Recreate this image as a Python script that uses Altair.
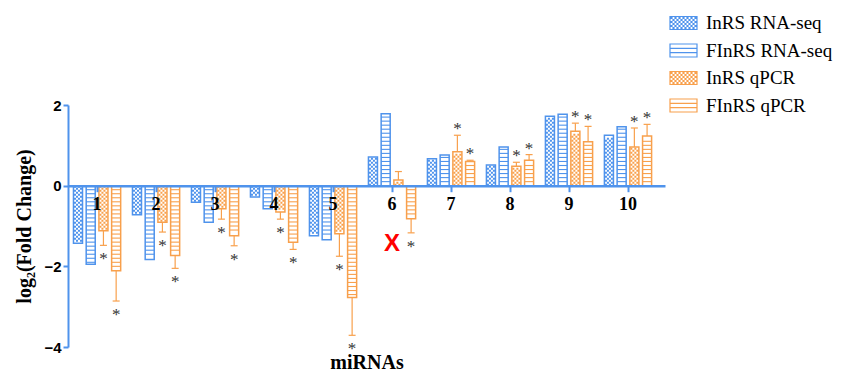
import altair as alt
import pandas as pd
import numpy as np

groups = ["1", "2", "3", "4", "5", "6", "7", "8", "9", "10"]
series = ["InRS RNA-seq", "FInRS RNA-seq", "InRS qPCR", "FInRS qPCR"]

inrs_rna = [-1.43, -0.72, -0.41, -0.28, -1.24, 0.71, 0.67, 0.51, 1.72, 1.25]
finrs_rna = [-1.95, -1.83, -0.91, -0.57, -1.34, 1.78, 0.76, 0.96, 1.77, 1.46]
inrs_qpcr = [-1.12, -0.91, -0.57, -0.65, -1.19, 0.14, 0.84, 0.48, 1.35, 0.96]
inrs_qpcr_err = [-1.48, -1.15, -0.83, -0.83, -1.75, 0.35, 1.25, 0.58, 1.55, 1.43]
finrs_qpcr = [-2.11, -1.73, -1.24, -1.40, -2.77, -0.82, 0.60, 0.63, 1.09, 1.23]
finrs_qpcr_err = [-2.86, -2.05, -1.49, -1.58, -3.71, -1.17, 0.63, 0.77, 1.47, 1.52]
inrs_qpcr_star = [1, 1, 1, 1, 1, 0, 1, 1, 1, 1]
finrs_qpcr_star = [1, 1, 1, 1, 1, 1, 1, 1, 1, 1]

BLUE = "#4F93EC"
ORANGE = "#F8A04C"
strokes = [BLUE, BLUE, ORANGE, ORANGE]
PX = 40.33  # pixels per unit on the y scale (used for pattern spacing only)

vals = [inrs_rna, finrs_rna, inrs_qpcr, finrs_qpcr]
rows = []
for s, v in zip(series, vals):
    for g, x in zip(groups, v):
        rows.append({"group": g, "series": s, "value": x})
bars = pd.DataFrame(rows)

erows = []
for s, v, e, st in [("InRS qPCR", inrs_qpcr, inrs_qpcr_err, inrs_qpcr_star),
                    ("FInRS qPCR", finrs_qpcr, finrs_qpcr_err, finrs_qpcr_star)]:
    for g, x, ee, ss in zip(groups, v, e, st):
        erows.append({"group": g, "series": s, "value": x, "err": ee, "star": ss})
errs = pd.DataFrame(erows)

# horizontal-line pattern inside FInRS bars
srows = []
for s, v in [("FInRS RNA-seq", finrs_rna), ("FInRS qPCR", finrs_qpcr)]:
    for g, x in zip(groups, v):
        k = 1
        while k * 0.1 < abs(x) - 0.04:
            srows.append({"group": g, "series": s, "lvl": float(np.sign(x) * k * 0.1)})
            k += 1
stripes = pd.DataFrame(srows)

# checker pattern inside InRS bars (one row of cells every 2 px)
crows = []
for s, v in [("InRS RNA-seq", inrs_rna), ("InRS qPCR", inrs_qpcr)]:
    for g, x in zip(groups, v):
        hpx = abs(x) * PX
        j = 0
        while (j + 1) * 2 <= hpx - 0.5:
            crows.append({"group": g, "series": s,
                          "lvl": float(np.sign(x) * (j + 0.5) * 2 / PX), "par": j % 2})
            j += 1
checks = pd.DataFrame(crows)

mark_df = pd.DataFrame({"group": ["6"], "y": [-1.44], "label": ["X"]})

# legend swatch paths (unit = 13.5 px)
u = 1 / 13.5
rect = "M-1,-0.48H1V0.48H-1Z"
striped = rect + " M-1,-0.16H1 M-1,0.16H1"
sq = []
for i, cx in enumerate(range(-12, 13, 2)):
    for j, cy in enumerate(range(-5, 6, 2)):
        if (i + j) % 2 == 0:
            sq.append("M%.4f,%.4fh%.4fv%.4fh%.4fZ" % ((cx - 0.5) * u, (cy - 0.5) * u, u, u, -u))
checker = rect + " " + " ".join(sq)
shapes = [checker, striped, checker, striped]
legend_df = pd.DataFrame({"series": series})

# checker row symbols (size=4 -> 1 unit = 1 px)
row_even = "M-4,-1h2v2h-2Z M0,-1h2v2h-2Z"
row_odd = "M-2,-1h2v2h-2Z M2,-1h2v2h-2Z"

X = alt.X("group:N", sort=groups,
          scale=alt.Scale(paddingInner=0.2, paddingOuter=0.16, align=0.29),
          axis=alt.Axis(title="miRNAs", offset=-161.3, zindex=1, labelAngle=0,
                        domainColor=BLUE, domainWidth=2.5, tickColor=BLUE,
                        tickWidth=2, tickSize=6, labelFont="Liberation Serif",
                        labelFontWeight="bold", labelFontSize=18, labelColor="black",
                        labelPadding=4, titleFont="Liberation Serif", titleFontSize=20,
                        titleFontWeight="bold", titleColor="black", titleBaseline="middle",
                        titleY=177, grid=False))
XO = alt.XOffset("series:N", sort=series,
                 scale=alt.Scale(paddingInner=0.29, paddingOuter=0))
Y = alt.Y("value:Q", scale=alt.Scale(domain=[-4, 2], nice=False),
          axis=alt.Axis(values=[-4, -2, 0, 2], title="log₂(Fold Change)",
                        domainColor=BLUE, domainWidth=2, tickColor=BLUE, tickWidth=2,
                        tickSize=5, labelFont="Liberation Sans", labelFontWeight="bold",
                        labelFontSize=15, labelColor="black", labelPadding=2,
                        titleFont="Liberation Serif", titleFontSize=20,
                        titleFontWeight="bold", titleColor="black", titleX=-44,
                        titleY=121, titleBaseline="middle", grid=False))

stroke_scale = alt.Scale(domain=series, range=strokes)
shape_scale = alt.Scale(domain=series, range=shapes)

bar_layer = alt.Chart(bars).mark_bar(strokeWidth=1.5, fill="white").encode(
    x=X, xOffset=XO, y=Y,
    stroke=alt.Stroke("series:N", scale=stroke_scale, sort=series, title=None),
)

legend_layer = alt.Chart(legend_df).mark_point(filled=True, fill="white", clip=True,
                                               strokeWidth=1.2).encode(
    x=alt.value(-2000), y=alt.value(-2000),
    stroke=alt.Stroke("series:N", scale=stroke_scale, sort=series, title=None),
    shape=alt.Shape("series:N", scale=shape_scale, sort=series, title=None),
)

stripe_layers = []
for s, c in [("FInRS RNA-seq", BLUE), ("FInRS qPCR", ORANGE)]:
    stripe_layers.append(
        alt.Chart(stripes).transform_filter(alt.datum.series == s)
        .mark_tick(size=9, thickness=1.1, color=c, opacity=1)
        .encode(x=X, xOffset=XO, y=alt.Y("lvl:Q"))
    )

check_layers = []
for s, c in [("InRS RNA-seq", BLUE), ("InRS qPCR", ORANGE)]:
    for par, path in [(0, row_even), (1, row_odd)]:
        check_layers.append(
            alt.Chart(checks)
            .transform_filter((alt.datum.series == s) & (alt.datum.par == par))
            .mark_point(shape=path, filled=True, size=4, opacity=1, color=c, strokeWidth=0)
            .encode(x=X, xOffset=XO, y=alt.Y("lvl:Q"))
        )

err_rule = alt.Chart(errs).mark_rule(color=ORANGE, strokeWidth=1.2).encode(
    x=X, xOffset=XO, y=alt.Y("value:Q"), y2="err:Q")
err_cap = alt.Chart(errs).mark_tick(color=ORANGE, size=7, thickness=1.2, opacity=1).encode(
    x=X, xOffset=XO, y=alt.Y("err:Q"))

star_neg = alt.Chart(errs).transform_filter("datum.star == 1 && datum.err < 0").mark_text(
    text="*", font="Liberation Serif", fontSize=17, color="#333333", dy=14).encode(
    x=X, xOffset=XO, y=alt.Y("err:Q"))
star_pos = alt.Chart(errs).transform_filter("datum.star == 1 && datum.err > 0").mark_text(
    text="*", font="Liberation Serif", fontSize=17, color="#333333", dy=-6).encode(
    x=X, xOffset=XO, y=alt.Y("err:Q"))

red_x = alt.Chart(mark_df).mark_text(font="Liberation Sans", fontWeight="bold",
                                     fontSize=24, color="#FF0000").encode(
    x=X, y=alt.Y("y:Q"), text="label:N")

chart = alt.layer(bar_layer, *stripe_layers, *check_layers, err_rule, err_cap,
                  star_neg, star_pos, red_x, legend_layer).properties(
    width=597, height=242,
    autosize=alt.AutoSizeParams(type="none"),
    padding={"left": 60, "top": 97, "right": 170, "bottom": 30},
).configure_view(stroke=None).configure_legend(
    orient="none", legendX=601, legendY=-96.5, padding=0,
    symbolSize=729, symbolStrokeWidth=1.2,
    labelFont="Liberation Serif", labelFontSize=19, labelColor="black",
    labelOffset=8, rowPadding=2.5, labelLimit=300,
)

chart.save("out.html", embed_options={"renderer": "svg", "actions": False})
